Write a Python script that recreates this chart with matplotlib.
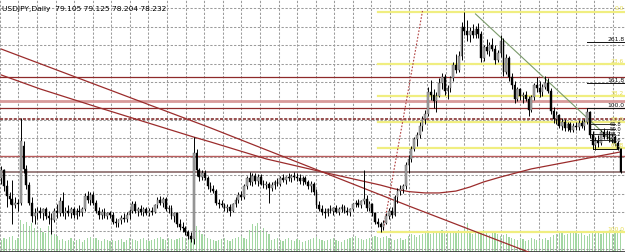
import matplotlib
matplotlib.use('Agg')
import matplotlib.pyplot as plt
from matplotlib.patches import Rectangle
import numpy as np

# ---------------- data (USDJPY daily) ----------------
opens = [78.00, 78.30, 77.70, 77.35, 77.25, 77.00, 77.10, 77.10, 79.20, 78.35,
         77.75, 77.10, 76.60, 76.70, 76.80, 76.70, 76.85, 76.60, 76.55, 76.45,
         76.80, 76.70, 77.15, 76.70, 76.80, 76.70, 76.85, 76.65, 76.80, 76.75,
         76.85, 77.35, 77.20, 77.40, 77.10, 76.80, 76.65, 76.75, 76.60, 76.70,
         76.65, 76.40, 76.35, 76.45, 76.55, 76.50, 76.65, 76.80, 77.05, 76.80,
         76.85, 76.75, 76.85, 76.70, 76.80, 76.75, 77.00, 77.20, 77.10, 77.25,
         76.85, 76.90, 76.60, 76.70, 76.30, 76.20, 76.15, 76.00, 75.85, 75.75,
         78.95, 78.30, 78.05, 78.20, 78.00, 77.70, 77.60, 77.55, 77.10, 77.05,
         77.00, 76.90, 76.95, 76.80, 77.05, 77.20, 77.40, 77.30, 77.70, 78.00,
         77.85, 78.10, 77.90, 78.05, 77.80, 77.75, 77.80, 77.65, 77.75, 77.85,
         77.80, 78.00, 77.95, 78.05, 78.00, 78.10, 78.05, 78.00, 77.90, 78.00,
         77.85, 77.70, 77.80, 77.50, 77.00, 76.85, 76.75, 76.70, 76.85, 76.80,
         76.90, 76.75, 76.85, 76.95, 76.80, 76.75, 76.85, 77.05, 77.10, 77.00,
         77.15, 77.25, 76.90, 77.05, 76.70, 76.40, 76.30, 76.20, 76.35, 76.60,
         76.80, 76.65, 77.30, 77.55, 77.60, 77.70, 78.50, 78.70, 79.10, 79.45,
         79.60, 79.95, 80.20, 80.40, 81.20, 81.10, 80.85, 81.05, 81.55, 81.75,
         81.25, 81.35, 81.70, 82.20, 82.00, 82.55, 83.60, 83.45, 83.30, 83.45,
         83.30, 83.55, 83.35, 82.45, 82.85, 82.70, 82.95, 82.80, 82.40, 82.65,
         83.10, 81.95, 82.45, 81.75, 81.45, 80.95, 81.30, 81.05, 81.10, 80.95,
         80.55, 81.00, 81.45, 81.35, 81.20, 81.40, 81.55, 81.25, 80.50, 80.20,
         80.35, 79.95, 80.10, 79.85, 80.00, 79.80, 79.95, 79.90, 80.05, 79.95,
         80.10, 80.45, 79.60, 79.25, 79.40, 79.30, 79.70, 79.55, 79.70, 79.45,
         79.55, 79.30, 79.105]
highs = [78.45, 78.35, 77.95, 77.50, 77.95, 77.30, 77.25, 80.24, 79.40, 78.50,
         77.85, 77.30, 76.90, 76.95, 76.95, 76.90, 76.95, 76.80, 76.70, 76.90,
         77.05, 77.30, 77.50, 76.95, 77.00, 76.95, 76.95, 76.90, 77.00, 76.95,
         77.45, 77.55, 77.50, 77.50, 77.20, 76.95, 76.85, 76.90, 76.75, 76.80,
         76.75, 76.55, 76.50, 76.65, 76.70, 76.75, 76.85, 77.15, 77.15, 76.95,
         77.00, 76.95, 76.95, 76.90, 76.95, 77.05, 77.30, 77.35, 77.30, 77.30,
         77.00, 77.00, 76.75, 76.75, 76.50, 76.40, 76.25, 76.10, 76.00, 79.53,
         79.10, 78.40, 78.30, 78.30, 78.10, 77.85, 77.75, 77.60, 77.25, 77.20,
         77.10, 77.05, 77.05, 77.10, 77.30, 77.50, 77.55, 77.80, 78.10, 78.25,
         78.20, 78.20, 78.15, 78.15, 77.95, 77.90, 77.85, 77.85, 77.95, 78.00,
         78.10, 78.15, 78.10, 78.20, 78.15, 78.25, 78.20, 78.15, 78.10, 78.10,
         77.95, 77.90, 77.85, 77.60, 77.15, 77.00, 76.90, 76.90, 77.00, 76.95,
         77.00, 76.95, 77.05, 77.00, 76.95, 76.90, 77.10, 77.20, 77.25, 77.20,
         78.30, 77.40, 77.15, 77.10, 76.75, 76.55, 76.40, 76.45, 76.70, 76.90,
         76.95, 77.40, 77.65, 77.75, 77.80, 78.60, 78.85, 79.20, 79.55, 79.70,
         80.10, 80.30, 80.55, 81.40, 81.65, 81.30, 81.20, 81.70, 81.90, 81.85,
         81.45, 81.80, 82.30, 82.60, 82.70, 83.80, 84.18, 83.85, 83.60, 83.70,
         83.65, 83.75, 83.45, 82.95, 83.15, 83.05, 83.20, 82.95, 82.75, 83.30,
         83.20, 82.60, 82.55, 81.90, 81.60, 81.40, 81.35, 81.20, 81.25, 81.05,
         81.10, 81.55, 81.75, 81.60, 81.50, 81.80, 81.70, 81.35, 80.65, 80.50,
         80.40, 80.25, 80.20, 80.10, 80.10, 80.05, 80.10, 80.15, 80.15, 80.20,
         80.60, 80.50, 79.75, 79.55, 79.60, 79.80, 79.85, 79.80, 79.75, 79.65,
         79.60, 79.40, 79.125]
lows = [77.80, 77.55, 76.95, 77.05, 76.30, 76.90, 76.80, 77.00, 78.20, 77.60,
        77.00, 76.40, 76.30, 76.50, 76.55, 76.45, 76.50, 76.30, 75.95, 76.40,
        76.55, 76.60, 76.60, 76.50, 76.60, 76.55, 76.55, 76.50, 76.60, 76.60,
        76.80, 77.10, 77.00, 77.00, 76.70, 76.50, 76.50, 76.55, 76.50, 76.55,
        76.30, 76.20, 76.20, 76.30, 76.40, 76.40, 76.50, 76.70, 76.70, 76.60,
        76.65, 76.60, 76.65, 76.60, 76.65, 76.70, 76.90, 77.00, 76.95, 76.80,
        76.70, 76.50, 76.40, 76.20, 76.10, 76.00, 75.90, 75.75, 75.65, 75.58,
        78.10, 77.90, 77.95, 77.95, 77.60, 77.50, 77.45, 77.00, 76.90, 76.95,
        76.80, 76.75, 76.60, 76.75, 76.95, 77.10, 77.20, 77.25, 77.60, 77.75,
        77.70, 77.80, 77.70, 77.75, 77.65, 77.60, 77.10, 77.55, 77.60, 77.70,
        77.70, 77.85, 77.80, 77.90, 77.85, 77.95, 77.90, 77.80, 77.75, 77.80,
        77.60, 77.50, 77.40, 76.90, 76.80, 76.65, 76.55, 76.60, 76.70, 76.65,
        76.70, 76.65, 76.75, 76.70, 76.65, 76.60, 76.80, 76.95, 76.95, 76.90,
        77.05, 76.80, 76.80, 76.60, 76.30, 76.20, 76.02, 76.10, 76.30, 76.50,
        76.55, 76.60, 77.10, 77.40, 77.45, 77.60, 78.20, 78.60, 79.00, 79.20,
        79.50, 79.75, 80.00, 80.30, 80.90, 80.60, 80.45, 81.00, 81.30, 81.10,
        80.95, 81.20, 81.60, 81.90, 81.95, 82.40, 83.30, 83.10, 83.05, 83.20,
        83.20, 83.20, 82.30, 82.35, 82.60, 82.55, 82.70, 82.25, 82.30, 82.50,
        81.80, 81.85, 81.60, 81.30, 80.80, 80.85, 80.90, 80.80, 80.85, 80.30,
        80.45, 80.90, 81.20, 81.00, 81.05, 81.30, 81.15, 80.40, 80.05, 80.00,
        79.85, 79.80, 79.75, 79.75, 79.70, 79.70, 79.80, 79.80, 79.85, 79.80,
        80.00, 79.50, 79.10, 79.05, 79.15, 79.25, 79.45, 79.45, 79.35, 79.30,
        79.20, 79.05, 78.204]
closes = [78.30, 77.70, 77.35, 77.25, 77.00, 77.10, 77.05, 79.40, 78.35, 77.75,
          77.10, 76.60, 76.70, 76.80, 76.70, 76.85, 76.60, 76.55, 76.45, 76.80,
          76.70, 77.15, 76.70, 76.80, 76.70, 76.85, 76.65, 76.80, 76.75, 76.85,
          77.35, 77.20, 77.40, 77.10, 76.80, 76.65, 76.75, 76.60, 76.70, 76.65,
          76.40, 76.35, 76.45, 76.55, 76.50, 76.65, 76.80, 77.05, 76.80, 76.85,
          76.75, 76.85, 76.70, 76.80, 76.75, 77.00, 77.20, 77.10, 77.25, 76.85,
          76.90, 76.60, 76.70, 76.30, 76.20, 76.15, 76.00, 75.85, 75.75, 78.95,
          78.30, 78.05, 78.20, 78.00, 77.70, 77.60, 77.55, 77.10, 77.05, 77.00,
          76.90, 76.95, 76.80, 77.05, 77.20, 77.40, 77.30, 77.70, 78.00, 77.85,
          78.10, 77.90, 78.05, 77.80, 77.75, 77.80, 77.65, 77.75, 77.85, 77.80,
          78.00, 77.95, 78.05, 78.00, 78.10, 78.05, 78.00, 77.90, 78.00, 77.85,
          77.70, 77.80, 77.50, 77.00, 76.85, 76.75, 76.70, 76.85, 76.80, 76.90,
          76.75, 76.85, 76.95, 76.80, 76.75, 76.85, 77.05, 77.10, 77.00, 77.15,
          77.25, 76.90, 77.05, 76.70, 76.40, 76.30, 76.20, 76.35, 76.60, 76.80,
          76.65, 77.30, 77.55, 77.60, 77.70, 78.50, 78.70, 79.10, 79.45, 79.60,
          79.95, 80.20, 80.40, 81.20, 81.10, 80.85, 81.05, 81.55, 81.75, 81.25,
          81.35, 81.70, 82.20, 82.00, 82.55, 83.60, 83.45, 83.30, 83.45, 83.30,
          83.55, 83.35, 82.45, 82.85, 82.70, 82.95, 82.80, 82.40, 82.65, 83.10,
          81.95, 82.45, 81.75, 81.45, 80.95, 81.30, 81.05, 81.10, 80.95, 80.55,
          81.00, 81.45, 81.35, 81.20, 81.40, 81.55, 81.25, 80.50, 80.20, 80.35,
          79.95, 80.10, 79.85, 80.00, 79.80, 79.95, 79.90, 80.05, 79.95, 80.10,
          80.45, 79.60, 79.25, 79.40, 79.30, 79.70, 79.55, 79.70, 79.45, 79.55,
          79.30, 79.10, 78.232]
volumes = [3000, 3500, 3250, 3750, 4000, 3000, 3500,
           8000, 7000, 7500, 6500, 7250, 6000,
           5500, 6000, 5000, 4750, 6500, 5000, 4500, 4000,
           3000, 3250, 2750, 3000, 3500, 2750, 3000, 3250, 2500, 3000,
           3500, 3750, 3250, 3500, 3000, 2750, 3250, 3000, 2750, 3000,
           2750, 3000, 3250, 2500, 3000, 3500, 3250, 3000, 2750, 3250,
           3500, 3000, 2750, 3000, 3250, 3500, 3750, 3250, 3000, 3500,
           3250, 3000, 3250, 3500, 3750, 3500, 3250, 3750,
           7000,
           6500, 5500, 4500, 4000, 3500, 3250, 3000, 2750, 3000, 3250,
           3500, 3000, 2750, 3250, 3500, 3750, 4000, 3500, 3250,
           5500, 7000, 6500, 7250, 5500, 6000, 5000, 4500,
           3000, 3250, 3500, 3000, 2750, 3250, 3500, 3000, 2750, 3250,
           3000, 2500, 2750, 3000, 3250, 3500, 3750, 3250, 3000, 2750,
           3000, 3250, 3500, 3000, 2750, 2500, 3000, 3250, 3500, 3750,
           4000, 3500, 3250, 3000, 3250, 3500, 3750, 4000, 3750,
           3500, 3750, 4000, 3500, 3250, 3000, 3250, 3500, 3000, 3250,
           4000, 4500, 4250, 3750, 4250, 4500, 4750, 5000, 4500, 5250,
           4750, 5000, 5500, 4750, 5000,
           4750, 5250, 5000, 5500, 5250, 5750, 7250, 5000, 4500, 5250,
           4750, 5000, 5500, 4750, 4250, 5000, 5250, 4500, 4000, 4250,
           4500, 3750, 3500, 3250, 3000, 3500, 3250, 2750, 3000, 3500,
           3250, 3000, 2750, 3250, 3500, 3000, 3750, 4250, 4500, 4750,
           5000, 4250, 4500, 4750, 5250, 4750, 4500, 5000, 4250, 4000,
           4500, 5000, 5250, 4750, 4500, 5000, 5250, 4750, 4500, 5000,
           5250, 5500]

title_text = "USDJPY,Daily  79.105 79.125 78.204 78.232"

ma_bars = [0, 14, 35, 69, 75, 95, 115, 136, 141, 146, 152, 157, 163, 168,
           173, 179, 190, 222]
ma_vals = [81.83, 81.31, 80.62, 79.53, 79.35, 78.72, 78.24, 77.75, 77.61,
           77.51, 77.46, 77.46, 77.53, 77.68, 77.87, 78.05, 78.35, 78.98]
# long descending average line
ma2_bars = [0, 75, 146, 188, 200]
ma2_vals = [82.79, 79.87, 76.98, 75.31, 74.87]

# horizontal support / resistance levels
hlevels = [81.75, 80.88, 80.61, 80.20, 78.81, 78.24]

# Fibonacci retracement (yellow)
fib_low, fib_high = 76.00, 84.18
fib_levels = [0.0, 23.6, 38.2, 50.0, 61.8, 100.0]
fib_start_bar = 135
# Fibonacci expansion (black)
fe_zero, fe_hundred = 79.08, 80.59
fe_levels_long = [261.8, 161.8, 100.0]
fe_levels_short = [61.8, 50.0, 38.2, 23.6]

# trend lines
dotted_bars = [137, 151]
dotted_vals = [76.13, 84.20]
green_bars = [170, 222]
green_vals = [84.09, 79.09]

# ---------------- drawing ----------------
W, H = 625, 253
fig = plt.figure(figsize=(W / 100, H / 100), dpi=100)
ax2 = fig.add_axes([0, 0, 1, 1])
ax = fig.add_axes([0, 0, 1, 1])
ax.patch.set_visible(False)

n = len(closes)
idx = np.arange(n)
px = 2.79          # pixels per bar
x0pix = 1.2
xmin = (0 - x0pix) / px
xmax = (W - x0pix) / px
ymax = 84.643
ymin = ymax - H / 27.0
ax.set_xlim(xmin, xmax)
ax.set_ylim(ymin, ymax)
ax2.set_xlim(xmin, xmax)
ax2.set_ylim(0, 63250)

for a in (ax, ax2):
    a.set_xticks([])
    a.set_yticks([])
    for s in a.spines.values():
        s.set_visible(False)
ax2.spines['top'].set_visible(True)
ax2.spines['bottom'].set_visible(True)
ax2.spines['top'].set_color('#303030')
ax2.spines['bottom'].set_color('#303030')
ax2.spines['top'].set_linewidth(1.2)
ax2.spines['bottom'].set_linewidth(1.2)

# grid (dotted)
grid_kw = dict(color='#9c9c9c', lw=0.75, ls=(0, (2.2, 1.6)), zorder=0)
for k in range(0, 35):
    xp = -0.2 + 18.58 * k
    ax2.axvline((xp - x0pix) / px, **grid_kw)
for k in range(0, 14):
    yp = 9.2 + 18.55 * k
    ax.axhline(ymax - yp / 27.0, **grid_kw)

# volumes
ax2.bar(idx, volumes, width=0.42, color='#a3d7a3', zorder=1)

# horizontal levels
hstyles = [dict(color='#8e2a2a', lw=0.9),
           dict(color='#d89a9a', lw=2.0),
           dict(color='#8e2a2a', lw=0.9),
           dict(color='#7a1f1f', lw=1.1, ls=(0, (2, 1))),
           dict(color='#b85c5c', lw=1.0),
           dict(color='#8a6a6a', lw=1.2)]
for lvl, st in zip(hlevels, hstyles):
    ax.axhline(lvl, zorder=2, **st)

# fib retracement
rng = fib_high - fib_low
for lv in fib_levels:
    yv = fib_high - rng * lv / 100.0
    ax.plot([fib_start_bar, xmax], [yv, yv], color='#f0ee80', lw=1.6, zorder=2)
    ax.text(xmax - 0.3, yv + 0.04, f"{lv:.1f}", color='#e6dc50', fontsize=4.3,
            ha='right', va='bottom', zorder=6)

# fib expansion
erng = fe_hundred - fe_zero
for lv in fe_levels_long:
    yv = fe_zero + erng * lv / 100.0
    ax.plot([210, xmax], [yv, yv], color='#111111', lw=0.7, zorder=5)
    ax.text(xmax - 0.3, yv + 0.04, f"{lv:.1f}", color='#111111', fontsize=4.3,
            ha='right', va='bottom', zorder=6)
for lv in fe_levels_short:
    yv = fe_zero + erng * lv / 100.0
    ax.plot([211, 220], [yv, yv], color='#111111', lw=0.6, zorder=5)
    ax.text(xmax - 1.2, yv + 0.02, f"{lv:.1f}", color='#111111', fontsize=3.8,
            ha='right', va='center', zorder=6)
ax.plot([212, 221], [fe_zero, fe_zero], color='#111111', lw=0.7, zorder=5)

# moving averages
ax.plot(ma_bars, ma_vals, color='#9b2c2c', lw=0.9, zorder=3)
ax.plot(ma2_bars, ma2_vals, color='#9b2c2c', lw=0.9, zorder=3)

# trend lines
ax.plot(dotted_bars, dotted_vals, color='#b04040', lw=0.8, ls=(0, (1.5, 1.5)), zorder=3)
ax.plot(green_bars, green_vals, color='#7a9a6a', lw=0.8, zorder=3)

# candles
bw = 0.62
for i in range(n):
    o, h, l, c = opens[i], highs[i], lows[i], closes[i]
    ax.plot([i, i], [l, h], color='#000000', lw=0.7, zorder=4, solid_capstyle='butt')
    lo, hi = min(o, c), max(o, c)
    hgt = max(hi - lo, 0.02)
    if c >= o:
        rect = Rectangle((i - bw / 2, lo), bw, hgt, facecolor='#a6a6a6',
                         edgecolor='#505050', lw=0.3, zorder=4.5)
    else:
        rect = Rectangle((i - bw / 2, lo), bw, hgt, facecolor='#000000',
                         edgecolor='#000000', lw=0.3, zorder=4.5)
    ax.add_patch(rect)

ax.text(0.004, 0.975, title_text, transform=ax.transAxes, fontsize=5.4,
        family='DejaVu Sans', va='top', ha='left', color='#000000', zorder=7)

fig.savefig('out.png', dpi=100, facecolor='white')
